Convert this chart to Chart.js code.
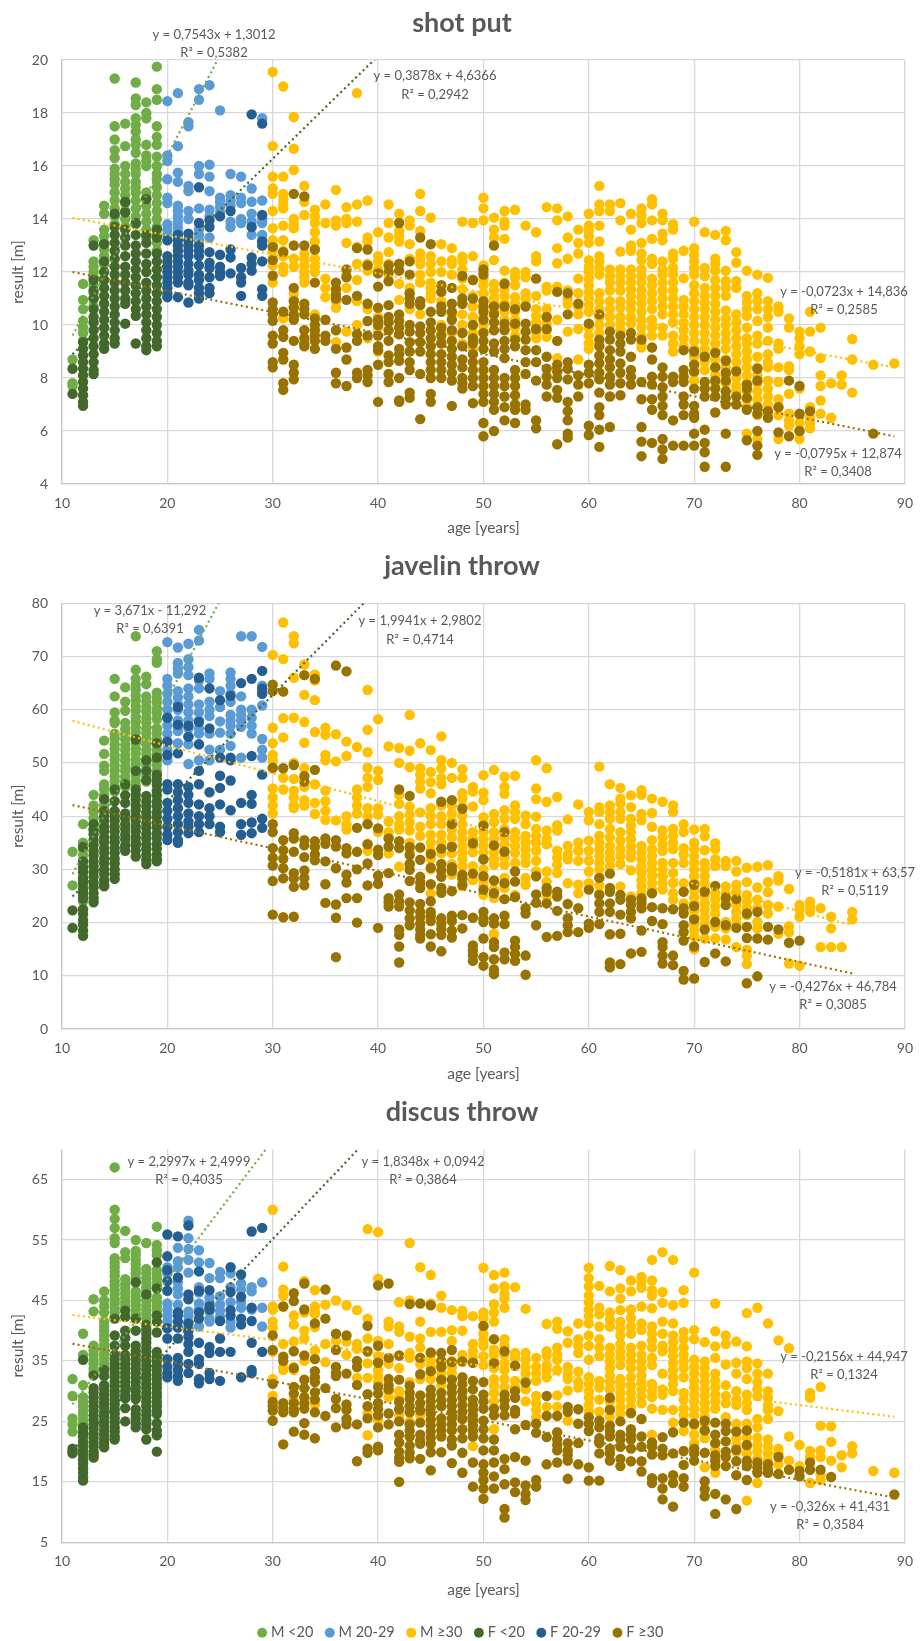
<!DOCTYPE html>
<html>
<head>
<meta charset="utf-8">
<script src="https://cdn.jsdelivr.net/npm/chart.js@4"></script>
<style>
  html, body { margin: 0; padding: 0; background: #fff; }
  canvas { position: absolute; left: 0; }
</style>
</head>
<body>
<canvas id="shot" style="top:0" width="924" height="540"></canvas>
<canvas id="javelin" style="top:540px" width="924" height="545"></canvas>
<canvas id="discus" style="top:1085px" width="924" height="556"></canvas>
<script>
// rows are [age, result, result, ...]
const seriesNames = ["M <20", "M 20-29", "M ≥30", "F <20", "F 20-29", "F ≥30"];
const seriesColors = ["#70ad47", "#5b9bd5", "#ffc000", "#43682b", "#255e91", "#997300"];
const ageTicks = [10, 20, 30, 40, 50, 60, 70, 80, 90];
const shotTicks = [4, 6, 8, 10, 12, 14, 16, 18, 20];
const javelinTicks = [0, 10, 20, 30, 40, 50, 60, 70, 80];
const discusTicks = [5, 15, 25, 35, 45, 55, 65];

// ---- shot put ----
const shotMYoung = [
  [11,8.7,7.8,7.7],
  [12,11.55,10.95,10.6,10.15,9.9,9.7,9.4],
  [13,13.2,12.4,12.2,12,11.8,11.5,11.2,11,10.7],
  [14,14.5,14.2,13.6,13.35,13.1,12.85,12.6,12.3],
  [15,19.3,17.5,17,16.6,16.3,15.9,15.7,15.5,15.3,15,14.7,14.4,14.1,13.8],
  [16,17.6,16.75,16,15.7,15.4,15.15,14.9,14.6,14.3,14,13.7],
  [17,19.15,18.55,18.3,17.8,17.55,17.3,17,16.8,16.5,16.1,15.9,15.7,15.4,15.2,15,14.7,14.4,14.1,13.8],
  [18,18.4,18,17.8,16.8,16.4,16.2,16,15,14.8,14.5,14.2,13.9,13.6,13.3],
  [19,19.75,18.9,18.5,17.5,17.1,16.8,16.35,16,15.7,15.5,15.2,14.9,14.6,14.3,14,13.7,13.4,13.1,12.8],
];
const shotMMid = [
  [20,18.45,16.4,16.2,15.5,14.8,14.6,13.8,13.6,13.4],
  [21,18.75,16.75,15.75,15.4,14.5,14.3,14.1,13.9,13.7,13.5],
  [22,17.65,17.5,15.25,15.05,14.3,14],
  [23,18.9,18.5,16,15.7,14.4,13.6,13.4,13.2],
  [24,19.05,16.05,15.6,15.05,14.35,14.1,13.3],
  [25,18.1,14.8,14.65,14.45,14.25],
  [26,15.7,14.9,14.7,14.5,13.9,13.7],
  [27,15.6,14.8,14.6,14,13.85],
  [28,15.15,14.65,14.2,13.9,13.4],
  [29,17.8,14.7,14,13.85,13.4,13.2],
];
const shotMOld = [
  [30,19.55,16.75,15.6,15.15,14.95,14.3,13.65,13.2,13,12.8,12.5,12.25,11.6],
  [31,19,15.6,14.95,14.75,14.55,14.4,13.75,13.2,12.8,12.6,12.2,12,10.25],
  [32,17.85,16.65,15.85,14,13.8,13.65,12.5,12.2,11.2,10.95,10.7],
  [33,15.25,14.65,14.15,12.7,12.5,12.25,12,11.8,11.6],
  [34,14.35,14.1,13.85,13.5,13.15,12.85,12.5,12.2,12,10.4],
  [35,14.55,13.85,11.75,11.4,11.05],
  [36,15.1,13.95,13.75,11.1,10.9,10.65,9.35],
  [37,14.45,14,13.85,13.1,11.9,11.4,9.75],
  [38,18.75,14.55,13.9,12.95,12.3,11.7,10.9,10],
  [39,14.7,13.3,13.15,12.3,12.05,10.6,9.5],
  [40,13.5,12.6,12.4,12.1,10.3,10.1,9.9,9],
  [41,14.55,13.85,13.3,12.75,12.3,11.9],
  [42,14.2,13.55,13.35,13.15,12.3,11.55,10.95],
  [43,13.95,13.75,13.05,12.5,11.4,11.2,10.6],
  [44,14.95,14.3,13.55,12.7,12.5,12.3,11.9,11.6,10.9,10.4],
  [45,14.05,12.6,12.3,12,11.6,11.4,11.2,11],
  [46,13.05,12.4,12,10.9,10,9.7,9.4],
  [47,12.9,12.45,12.3,11.9,10.4,9.7],
  [48,13.9,12.58,12.4,12.1,11.75,11.35,10.8,10.4,10,9.7,9.3],
  [49,13.85,12.6,11.7,11.1,10.7,10.3,10,9.7,9.4,9.1],
  [50,14.8,14.4,13.95,12.25,12,11.75,11.5,11.2,10.9,10.6,10.3,10,9.75],
  [51,14.05,13.6,13.3,12.45,11.55,11.3,11,10.8,10.5],
  [52,14.3,13.9,13.75,13.25,12.05,11.6,11.35,11.1,10.8,10.5,10.2,9.9],
  [53,14.35,12,11.8,11.5,11.05,10.8,10.5,10.2,9.9,9.6],
  [54,13.75,12,11.8,11.2,11,10.75],
  [55,13.5,12.6,12.4,11.1,10.6,10.35,10.1,9.9,9.7,9.5],
  [56,14.45,11.45,11.3,10.6,10.3,10.05,9.8,9.55],
  [57,14.4,13.95,12.9,12.33,11.45,10.2,8.75],
  [58,14.1,13.3,12.5,11.3,11,10.8,9.75],
  [59,13.6,13.1,12.7,11.75,11.2,10.7,10.4,9.85,8.7],
  [60,14.2,13.75,13.55,13.35,13.1,12.45,12.2,12,11.75,11.5,11.25,11,10.75,10.5,9.9,9.6,9.3,9.1],
  [61,15.25,14.55,14.3,13.75,13.15,12.6,12.4,12.15,11.9,11.2,10.9,10.6,10.3,10,9.7,9.3],
  [62,14.55,14.3,12.1,11.85,11.6,11.3,10.9,10.6,10.3,10],
  [63,14.6,13.95,12.77,12.1,11.85,11.6,11.3,10.9,10.65,10.3,10.05,9.8],
  [64,14.2,13.6,13,12.8,12.1,11.85,11.6,11.35,11.1,10.85,10.6,10.3,10.05],
  [65,14.4,14.15,13.85,13.1,12.7,12.45,12.1,11.85,11.6,11.3,11.05,10.8,10.5,10.2,9.9,9.6,9.3,9.15],
  [66,14.75,14.55,13.95,13.25,12.5,12.3,11.75,11.5,11.2,10.9,10.6,10.2,9.9,9.6],
  [67,14.2,13.95,13.45,13.2,12.4,12.1,11.9,11.6,11.3,11,10.7,10.4,9.9,9.6],
  [68,13.8,13.6,12.7,12.5,12.15,11.9,11.6,11.3,11,10.7,10.4,10.1,9.6,9.3,9],
  [69,12.8,11.76,10.95,10.7,10.4,10.1,9.8,9.5,9.2],
  [70,13.9,12.9,12.65,12.4,12.15,11.9,11.5,11.2,10.9,10.6,10.3,10,9.7,9.4,9.1,8.8,8.5,8.2,7.9],
  [71,13.5,12.15,11.85,11.4,11.1,10.85,10.6,10.3,10,9.7,9.4,9.1,8.9,8.6,8.3,7.6],
  [72,13.4,12.5,12.3,12.05,11.7,11.4,11.1,10.8,10.5,10.2,9.9,9.6,9.3,9,8.7,8.4,8.1,7.8],
  [73,13.55,13.2,12.05,11.65,11.4,11.1,10.55,10.25,10,9.7,9.4,9.1,8.7,8.4,8.1,7.8],
  [74,12.75,12.35,11.65,11.4,10.4,10.1,9.8,9.5,9.2,8.9,8.6,8.3,8,7.7,7.5],
  [75,12.05,11.1,10.85,10.6,10.35,9.9,9.5,9.3,9,8.7,8.4,8.1,7.8,7.5,7.2,6.9,5.9],
  [76,11.9,11.2,10.9,10.6,10.15,9.6,9.3,8.8,8.4,8.1,7.8,7.5,7.2,6.9,6.6,5.7],
  [77,11.78,10.9,10.6,10.3,9.9,9.4,8.9,8.6,8.4,7.9,7.6,7.3,7,6.7],
  [78,10.7,10.5,9.3,9.1,8.4,7.85,7.2,6.9,6.6,5.7],
  [79,10.25,9.9,8.45,8.3,7.4,6.65,6.4,6.2],
  [80,9.75,9.5,9.2,8.9,7.6,6.6,6.3,6,5.7],
  [81,10.5,9.75,9,6.9,6.5,6.3,6.1],
  [82,9.9,8.75,8.1,7.7,7.15,6.65],
  [83,7.8,6.5],
  [84,8.1,7.75],
  [85,9.47,8.7,7.45],
  [87,8.5],
  [89,8.55],
];
const shotFYoung = [
  [11,8.35,7.4],
  [12,9.35,9.1,8.85,8.6,8.35,8.1,7.85,7.6,7.35,7.1,6.95],
  [13,13,11.7,11.3,11,10.6,10.3,10.1,9.8,9.5,9.2,8.9,8.6,8.3,8.15],
  [14,13.05,12.4,12,11.7,11.4,11.1,10.8,10.5,10.2,9.9,9.6,9.3,9.1],
  [15,14.2,13.7,13.4,13.1,12.8,12.5,12.2,11.9,11.6,11.3,11,10.7,10.4,10.1,9.8,9.5,9.3],
  [16,14.65,14.25,13.6,13.3,13,12.6,12.2,11.9,11.6,11.3,11,10.8,10.05],
  [17,13.85,13.4,13,12.7,12.4,12.1,11.8,11.5,11.2,10.9,10.6,10.35,9.3],
  [18,14.75,13.4,13.1,12.7,12.3,12,11.6,11.3,11,10.7,10.4,10.1,9.8,9.5,9.2,9.05],
  [19,13.6,13.3,12.7,12.4,12.1,11.8,11.5,11.2,10.9,10.6,10.3,10,9.7,9.4,9.2],
];
const shotFMid = [
  [20,13.2,12.6,12.4,12.2,12,11.8,11.6,11.4,11.2,11.05],
  [21,13.4,13.2,13,12.8,12.6,12.4,12.2,12,11.8,11.6,11.05],
  [22,13.45,13.2,13,12.8,12.6,12.3,12.05,11.9,11.6,11.5,10.85],
  [23,15.2,13.85,13,12.8,12.6,12.25,11.9,11.7,11.4,11.2,11],
  [24,13.95,13.7,12.75,12.35,12.15,11.8,11.4,11.2],
  [25,14.1,12.65,12.2,12,11.85],
  [26,14.3,12.85,12.55,11.95],
  [27,12.15,11.8,11.6,11.1],
  [28,17.95,13.7,12.55,12.3,12.05],
  [29,17.6,14.15,13.15,13,12.4,11.35,11.1],
];
const shotFOld = [
  [30,12.95,12.45,11.86,10.85,10.6,10.4,10.16,9.6,9.3,8.6,8.4],
  [31,12.75,10.5,9.8,9.55,8.95,8.7,7.8,7.55],
  [32,14.95,13,11.4,10.9,10.65,10.4,10.2,9.4,8.5,8.2,7.95],
  [33,14.85,13,10.8,10.6,10.4,9.8,9.5,9.3,9.2],
  [34,12.85,11.6,10.25,10,9.8,9.6,9.4,9.1],
  [35,10.2,9.6,9.4],
  [36,11.6,11.35,11.15,11,9.8,9.1,8.2,7.8],
  [37,12.1,11.8,10.95,9.15,8.7,7.7],
  [38,12.9,11.1,9.65,9.4,8.2,8],
  [39,12.85,12.25,10.8,10.15,9.6,8.3,8.1,7.85],
  [40,11.95,11.45,10.65,10.2,10,9.6,9.2,9.05,8.5,7.1],
  [41,12.25,12,11.65,10.75,10.3,10.1,9.8,9.4,8.85,8.6,8.15,7.85],
  [42,13.85,12.3,12.05,10.4,10.15,9.9,9.65,9.1,8.9,8.65,8,7.15,7.1],
  [43,12.4,11.9,11.2,11,10.8,10,9.75,9.35,9,8.6,8.3,7.45,7.25],
  [44,13.3,10.9,10.75,9.95,9.7,9.35,9,8.15,6.45],
  [45,13.05,10.5,10.1,9.8,9.5,9.2,8.9,8.6,8.3,8,7.4,7.1],
  [46,11.5,11.25,10.7,10.5,9.9,9.6,9.3,8.9,8.6,8.3,8],
  [47,11.4,10.8,10.5,10.2,9.8,9.4,9.1,8.8,8.5,8.2,7.9,6.95],
  [48,11.85,11,10.8,9.7,9.2,8.7,8.4,8,7.8,7.6],
  [49,11.7,11,10,9.5,9.3,8.9,8.6,8.3,8,7.7,7.05],
  [50,12.1,11.9,10.9,10.7,10.5,10.2,9.7,9.4,9.1,8.6,8.3,8,7.7,7.4,7.1,6.3,5.8],
  [51,13,10.7,10.4,10.1,9.8,9.3,9,8.3,8,7.7,7.4,7.1,6.8,6],
  [52,11.55,10.7,10.05,9.8,9.4,9.1,8.75,8,7.7,7.3,6.9,6.4],
  [53,10.6,10.05,9.45,9.2,8.3,8,7.7,7.35,7,6.8,6.3],
  [54,10.7,10.05,9.75,9.45,9.05,8.6,8.15,7,6.8],
  [55,11.75,9.85,9.05,8.6,7.9,6.4,6.1],
  [56,10.3,9.85,8.8,8.35,8.05,7.75,7.3],
  [57,11.25,9.4,8.5,8.25,8,7.55,7.25,5.5],
  [58,11.2,10.4,8.6,8.35,7.95,7.1,6.75,6.4,5.9,5.75],
  [59,10.8,8.1,7.75,7.3],
  [60,10.05,8.5,8.2,7.8,6.2,5.85],
  [61,10.4,9.45,9.2,8.85,8.55,8.2,7.95,7.45,6.9,6.6,6.05,5.4],
  [62,9.75,9.45,9.05,8.7,8.4,8.05,7.75,7.3,6.15],
  [63,9.6,9.3,9,8.55,8.2,7.8,7.35],
  [64,9.7,9.45,8.8,8.3,8.05,7.75],
  [65,9.45,7.85,7.2,6.15,5.6,5.05],
  [66,9.15,8.7,8.05,7.75,7.2,6.8,5.55],
  [67,8.4,8.05,7.65,7.3,6.95,6.6,5.7,5.3,4.95],
  [68,8.05,7.85,6.4,5.45],
  [69,9.05,8.3,8.05,7.85,7.3,7,6.6,5.45],
  [70,9,8.5,8.25,7.6,6.95,6.65,6.5,5.9,5.45],
  [71,8.8,7.85,7.6,7.3,6.05,5.55,5.2,4.65],
  [72,8.95,8.4,7.9,7.6,7.3,6.7],
  [73,8.65,8.2,7.9,7.5,7.25,7,5.9,4.65],
  [74,8.25,7.3,7],
  [75,7.75,7.6,7.25,6.8,5.65],
  [76,8.35,7.9,6.9,6.65,6,5.45,5.1],
  [77,6.75,6.5],
  [78,6.9,5.95],
  [79,7.9,5.8],
  [80,7.7,6.65,6],
  [81,6.75],
  [87,5.9],
];

// ---- javelin throw ----
const javelinMYoung = [
  [11,33.3,27],
  [12,38.5,35,33.8,32.7,31.6,30.5,29.4,28.3,27.2,26.1,25,24],
  [13,44,42,40.8,39.6,38.5,37.4],
  [14,54.2,51.7,49.5,48.5,46,45.1,44,43.1,42,41.1],
  [15,65.8,62.5,59.5,58,57.5,55.5,54.6,53.5,52.6,51.5,50.6,49.5,48.6,47.5,46.6,45.5,44.6],
  [16,64.2,61.5,59.8,57.5,56.4,55.4,54.5,53.4,52.5,51.4,50.5,49.4,48.5,47.4,46.5,45.5],
  [17,73.8,67.5,65.8,64.7,63.8,62.7,61.8,60.7,59.8,58.7,57.8,56.7,55.8,54.7,53.8,52.7,51.8,50.7,49.8,48.7,47.8,46.7,45.8],
  [18,66.2,64.8,62.5,61.5,60.5,59.6,58.5,57.6,56.5,55.6,54.5,53.6,52.5,51.6,50.5,49.6,48.5,47.6,46.5],
  [19,71,69.5,68.8,63.2,62.2,61.3,60.2,59.3,58.2,56.5,55.6,54.5,53.6,52.5,51.6,50.5,49.6,48.5,47.6],
];
const javelinMMid = [
  [20,72.7,65.8,64.5,63,61.5,60,58.5,57,55.5,54,52.5,50.5],
  [21,71.7,68.8,67.8,66.8,63.5,62.3,61,60,58,57,56,53.7],
  [22,72.4,69.5,68,66.5,64,62.5,61,59.5,58,56.5,55,53.5,49.8],
  [23,75,73,65.5,64,61,59.5,58,56.5,55.5,53.5,50.5],
  [24,66.8,65.8,61.5,60,58.8,55.5,52.5,50.5],
  [25,63.5,60.5,57.8,55.7,52.5],
  [26,67,65.8,64.5,63,61.5,59,58,57,55.5,53.2],
  [27,73.8,62.5,60,59,58,56.8,51],
  [28,73.8,60,58.5,57,55.5],
  [29,71.8,64.5,63.3,60.8,54.5,52.5,51],
];
const javelinMOld = [
  [30,70.3,56.6,53.7,51.5,50.5,49,45.2,43.5,42,40.5],
  [31,76.4,69.5,58.4,54.8,47.2,45],
  [32,73.8,72.5,66,58.5,50,47,44.8,43.5,42,41.5],
  [33,68.5,62.8,57.7,53.8,49,45.5,43,42],
  [34,66.6,65.5,61.8,55.8,46,42.5,40.4],
  [35,56.6,55.3,51.5,50.5,44.8,42.8,41,39.3],
  [36,55.4,50.3,39.2],
  [37,54,51.3,40,38.5,37.5],
  [38,53,45,43.5,42,40.5],
  [39,63.7,56.2,52,49.1,47.2,45.5,41.5,40,38.5,34.8,33.5],
  [40,58.2,48.5,46.8,41.5,40.3,37],
  [41,53.1,39,37,36,33],
  [42,52.8,50,44,42.3,40,38.5,37.5,30.5],
  [43,59,52.3,49.2,41.8,40.3,38.8,37.3,35,33.5,31],
  [44,53.7,49,47.8,46.5,45.2,40.7,38,36.3],
  [45,52.4,48.3,46.4,44.3,41.5,40,38.5,36.5,35,33.5,32,30,25.5],
  [46,55,50.5,49,47.2,46,42,40,38.5,36.5,35,33],
  [47,50,47.2,42,40.5,39,37.5,36,34.5,33,31,29],
  [48,48.8,47.2,44.3,43.3,41.7,40.1,38.5,37,35.7,34.4,33.2,31.9,30.6,28,26.8],
  [49,45.5,44.6,41.8,37,35.7,34.4,33.2,30.6,28],
  [50,47.7,44.4,43,39.8,38.5,37,35.7,34.4,33.2,31.9,30,28,27,25.2],
  [51,48.7,40.4,38.9,37,35.7,34.4,33.2,31.9,30.9,26.2,24.6,17.9],
  [52,47.4,45.5,44.2,41.1,39.5,37.6,36,34.7,33.5,32.2,30.9,28.4,26.5],
  [53,47.6,42,40.8,39.5,37,35.7,34.4,33.1,31.2,25.2],
  [54,40.1,38.5,36.3,35,33.8,32.5,31.2,28.4,27.1],
  [55,50.5,45.2,43.2,39.9,37.6,36.3,35,33.5,31.6,29.6],
  [56,49,42.7,37.3,35.7,34.7,29.6,27.7,24.9],
  [57,43.6,38.3,37.3,33.5,32.2,30.9,29.3],
  [58,39.4,34.4,32.8,31.9,27.4],
  [59,42.2,35,33.5,31.6,27.1,25.5],
  [60,40.8,39.2,35.4,33.5,31.6,29.6,27.4],
  [61,49.3,41.7,40.8,38.5,36.3,35,33.8,32.5,31.2,30,28.5,27,25.5],
  [62,46,42,40.8,39.5,37.6,36,34.4,33.1,31.9,30.6],
  [63,45.3,43.3,42.4,40.8,39.5,37,35.4,33.8,32.5,31,26.8],
  [64,43.9,41.7,39.5,38.2,37,35.7,34.4,33.2,32.2,29.8,24.9],
  [65,44.9,44,40.4,39.2,34.4,33.2,31.9,30.6,29.3,28,26.8,25.5,24.2],
  [66,43.3,40.6,38,35.5,33.8,32.5,31.2,30,28.7,27.4,26.2],
  [67,42.7,37.3,36,34.7,33.5,31.2,30,28.7,27.4,26.2],
  [68,42,40.8,37.6,36.3,35,33.8,31.2,29.3,27.4,25.5,24.3],
  [69,38.5,37,34,32.8,31.2,27.4,23.6],
  [70,37.5,35,33.8,32.5,31.2,30,28.7,27.4,26,24.7,23.5,22.2,21,19.6,18.5,17.3,15],
  [71,37.6,36.2,33.6,31.2,30,28.7,27.4,26.2,25,23.6,22.4,21,19.8,17],
  [72,34.9,33.8,31.9,30.6,25.5,24.3,23,21.7,19.2,17],
  [73,31.6,30.6,26.8,25.5,24.3,20.1,18.9,16.8],
  [74,31.6,29.6,27.1,25.8,24.6,23.3,22,20.8,19.8,15.4],
  [75,30.3,27.6,25.2,23.9,22.7,21.4,19.2,14.9,13.8,12.2],
  [76,30.5,26.6,24.3,22.7,20.1,18.9],
  [77,30.8,27.6,25.7,23.3,21.7],
  [78,28.7,27.9,23,17.9],
  [79,26.3,19.3,18.2,12.3],
  [80,23.3,22.4,21.1,11.9],
  [81,23.9,23,22],
  [82,22.7,15.4],
  [83,21.1,18.9,15.4],
  [84,15.4],
  [85,22,20.6],
];
const javelinFYoung = [
  [11,22.3,19],
  [12,34.2,31.5,30.4,29.5,28.4,27.5,26.4,25.5,24.5,22.5,21.6,20.5,19.6,18.5,17.5],
  [13,38.5,37.5,36.6,35.5,34.6,33.5,32.6,31.5,30.6,29.5,28.6,27.5,26.6,25.5,24.6,23.8],
  [14,43.2,41,40,39.1,38,37.1,36,35.1,34,33.1,32,31.1,30,29.1,28,27.1,26.8],
  [15,45,42.8,41,40,39.1,38,37.1,36,35.1,34,33.1,32,31.1,30,29.1,28.2],
  [16,46,43.9,42.5,40.5,39.6,38.5,37.6,36.5,35.6,34.5,33.5],
  [17,54.4,48.5,45,44,43.1,42,41.1,40,39.1,38,37.1,36,35.1,34.5,33.5,32.4],
  [18,50.5,48.5,46.8,43.8,42.7,41.8,40.7,39.8,38.7,37.8,36.7,35.8,34.7,33.8,32.7,31.8,31],
  [19,53.7,51,47.8,46.8,45.9,44.8,43.9,42.8,41.9,40.8,39.9,38.8,37.9,36.8,35.9,34.8,33.9,32.8,31.9,31.5],
];
const javelinFMid = [
  [20,58.5,54,51.5,46,45,42.5,41,39.5,38,36.5,35.5],
  [21,60.5,57.2,51.8,46,44.5,43,41.5,40,38.5,37,35.5,35],
  [22,57,54.9,45.5,44,42.5,40.5,39,38,36.8],
  [23,66,57.7,53.5,48.5,46,42.2,40,38.5,37],
  [24,64,56.5,44.5,41.5,40,38.5],
  [25,61.8,51,47.6,45.3,42.2,38,37],
  [26,62.6,51,50.5,46.7,41.1],
  [27,65,42.5,38.5,36.5],
  [28,65.8,51.3,44,42.3,38.8,36.8],
  [29,67.3,64,63,47.8,39.5,37.8],
];
const javelinFOld = [
  [30,64.7,63.5,49.1,38.5,37,34,32.2,30.7,27.8,21.5],
  [31,63.4,49,35.5,33.6,32,30.2,28.3,21],
  [32,49.6,36.8,35.8,33.3,29.3,28.3,26.7,21.1],
  [33,66.5,47.5,46.5,35.5,34.5,32.3,29.8,28.4,27],
  [34,65.8,48.7,35.3,34.2,32.8,31.7],
  [35,35.8,34.8,31.5,27.2,23.7],
  [36,68.3,35.5,34.3,30.2,23.4,20.9,13.5],
  [37,67.2,34,33,29,27.5,24.6],
  [38,37.8,33.3,30,24.6,20],
  [39,38.5,34.7,31.1,27],
  [40,37.7,33.7,32.7,28.8,27.3,19],
  [41,35.8,34.3,29.3,24.6,23.8,23],
  [42,45,35.3,34,25.3,24,23,18.7,17.7,15.5,12.5],
  [43,43.8,34.2,32.7,31,29.9,27.8,23.8,22.3,20.8,19.5],
  [44,34.1,31.8,28.6,27.5,26.5,23.5,22,21,19.8,18.7,17.7,17],
  [45,32.9,30.3,27.2,24,22,21.2,20.3,17.8,15.5],
  [46,42.7,33.9,31,29.8,28.6,26.5,25.6,20.8,19.8,18.8,17.7,14.6],
  [47,43,38.5,34.2,30.4,29.7,25.9,21.3,20.3,18.5,17.2],
  [48,41.4,29,28.4,27.1,21.4,18.9],
  [49,34.9,29.2,20.9,15.7,14.7,13.8,12.8],
  [50,38.2,31.9,28.7,26.2,22,20.8,20.1,17,13.5,11.9],
  [51,34.5,27.9,25.5,20.8,19.8,16.3,15.4,13.1,11.2,10.3],
  [52,37,33.3,27.4,24.4,21.3,19.7,14.4,13.1],
  [53,29.6,27.7,24.8,16.6,15.4,14.1,12.8],
  [54,22.7,21.7,13.8,10.2],
  [55,28.7,25.3,23.7,19.5],
  [56,26.5,25.8,23.6,17.3],
  [57,25.8,24.9,22.2,17.5],
  [58,23.5,20.8,19.5,18.2],
  [59,22.7,18.2],
  [60,26.2,19.8,19],
  [61,28.4,25.2,23.6,22,19.7],
  [62,29.2,26.5,25.8,23.6,22,17.8,12.5,11.6],
  [63,25.2,24.3,21.5,17.9,12.2],
  [64,24.3,23.3,22,20.8,14.2],
  [65,24.6,23.6,22.7,18.5,14.5],
  [66,25.5,22.9,20.3],
  [67,22.7,19.7,16.3,15.4,13.8,12.3],
  [68,22.5,13.8,12],
  [69,25.8,22.7,21.7,19.5,18.2,16.6,10.9,9.3],
  [70,27.1,23.1,20.6,15.5,9.5],
  [71,25.8,18.7,12.6],
  [72,26.9,20.1,14.2],
  [73,24.7,23.3,19.5,12.7],
  [74,24.4,19],
  [75,21.7,19.2,17.1,8.6],
  [76,22,17,9.9],
  [77,19.2,16.8],
  [78,18.7],
  [79,16.2],
  [80,16.6],
];

// ---- discus throw ----
const discusMYoung = [
  [11,32,29.2,25.5,24.5,23.3],
  [12,39.5,36,31,29,28.2,27.5,26.7,26,25.2,24.5],
  [13,45.2,43.2,37.5,36.7,36,35.2,34.5,33.7,33],
  [14,46.5,45,44,43,41.5,40.7,40,39.2,38.5,37.7,37,36.2,35.5,34.7,34,33.5],
  [15,67,60,58.5,57,55.3,54.5,52,51.2,50.5,49.7,49,48.2,47.5,46.7,46,45.2,44.5,43.7,43,42.2],
  [16,56.5,53,52,48.5,47.7,47,46.2,45.5,44.7,44],
  [17,55,53.2,52.5,51.7,51,50.2,49.5,48.7,48,46.5,45.7,45,44.2,43.5,42.7,42],
  [18,54.5,50.2,49.5,48.7,48,47.2,46.5,45.7,45,44.2,43.5,42.7,42],
  [19,57.2,54.2,53.3,52.5,50,49.2,48.5,47.7,47,45.5,44.7,44,43.2,42.5],
];
const discusMMid = [
  [20,50.5,49.5,44.5,43.5,42.5,41.5,40.5],
  [21,53.7,51.5,50.5,48,47,46,44.3,43],
  [22,58.2,55.3,53.5,51.7,49.6,43.2,42.5,41.5,40.5],
  [23,53.3,51.3,47.2,46.3,44.5,43.5,40.7],
  [24,51.2,48.7,45.5,44.5,43.2,42,41.5],
  [25,49.7,48.7,45.7,44.3,43.3,42.3],
  [26,49.5,47.2,44.7,41.5,40.5],
  [27,47.8,46.8,44.7,43.8],
  [28,47.2,46.5,43.5],
  [29,48,43.8,40.7],
];
const discusMOld = [
  [30,60,44,43.5,41.5,40.5,36.5,32,29.2],
  [31,50.6,46.8,45.8,44,37.8,34,33.5],
  [32,42.5,41,38.2,34,33.5,28.5],
  [33,48.2,43,40,38.7,35],
  [34,46.7,44,43.2,42.8,40.6,36.7,27.8],
  [35,44.3,37.8,34.8],
  [36,45,38.3],
  [37,44.2,38.2,36],
  [38,43.4,37.8,37,32.2],
  [39,56.8,42,38.7,36.5,34.6,32.2,26.3,22.7],
  [40,56.3,48.6,38.3,35.8,34.8,33.5,32.5,31.5,25.2],
  [41,41.5,40.7,37.8,35.2,34.5,30,29],
  [42,44.7,40.7,39.8,33.8,30,29,26,25],
  [43,54.5,45,39,36.3,35.5,31.5,25],
  [44,50.5,41.5,38.7,37.2,35.5,34.5,32,26],
  [45,49.2,44.5,39.8,36,35,34,33,32],
  [46,45.8,43.8,39.8,34.5,33,32,31],
  [47,43.4,40.1,38.3,35,34,33,32],
  [48,43.3,42.4,40,36,35,30],
  [49,42.4,37.8,36.6,35.5,20.9],
  [50,50.4,43,42.1,40.7,39.5,38.4,37.5,35.8,34.3],
  [51,49.2,47,44.4,43,41.5,36.9,36,34.9,33.8,32,30.9,29.7,28.3,23.7],
  [52,49.6,47.3,46.1,45.3,43.8,38.6,37.5,36,34.6,33.5,32,30.6],
  [53,47.2,36.3,35.5,31.7,30.6],
  [54,43.6,36.3,35.2,34,32.9,31.7,30.3,28.3],
  [55,35.5,34,32.9,31.7,29.2,28,26.9,25.7],
  [56,41.1,36.6,35.9,34.3,33.5,32.3,27.4],
  [57,41.5,40.3,37.2,36,35.2,33.5,29.3,27.4],
  [58,39.9,38,34,32.9,32,30.1,25.1],
  [59,41.2,38.6,37.5,36.3,33.2,31.5,30.6],
  [60,50.4,48.7,47.3,45.8,44.7,43.5,42.4,41.2,39.2,37.5,35.2,32.3,31.2,30,28.9,27.7,26.6],
  [61,47.4,43.8,42.7,40.7,38.6,37.2,35.8,31.7,30.6,28.6,26.6],
  [62,50.7,46.5,43,41.8,40.7,37.2,36,34.9,33.8,32.6,31.5,30.3,28.3,27.1,25.7],
  [63,50,47,45.3,43.4,41.5,40.4,39.2,37.8,36.6,35.5,34.3,32,30.9,29.7,28.6,27.4,26.3],
  [64,48.3,46.5,43.5,42.1,40.7,39.5,37.2,36,34.9,33.8,32.3,30.9,29.7,28.6,27.4,26.3],
  [65,48.9,48.1,47.1,44,41.2,40.1,37.5,36,34.9,33.8,32.6,31.5,30.3,29.2,28],
  [66,51.7,48.3,46.7,45.8,43.7,40.7,39.5,38.4,37.2,35.5,34.3,31.2,30,29,27.1,22.8],
  [67,53,46.4,44.6,41.5,39.5,37.5,36.6,32.9,30.3,29.4,26.9],
  [68,51.7,44.2,41.2,39.2,38.1,36.9,35.8,34.6,33.5,32.3,31.2,30,26.9,24.8],
  [69,46.7,44.6,39.8,38.6,37.2,36,34.9,33.8,32.3,29.7,28.6,27.1,26,23.4],
  [70,49.6,40.1,38.6,35.2,34,32.9,31.7,30.6,29.4,28.3,27.1,26,24.3,22.8,21.4],
  [71,38.1,34.9,33.8,32.6,31.5,30.3,29.2,28,26.9,25.7,24.6,23.4,22.2,17.4],
  [72,44.5,39.9,37.4,35.5,32.9,31.7,30.6,29.4,28.3,27.1,21.4,20.2,19.1,16.5],
  [73,39.2,37.8,34.4,31,29.2,28,25.7],
  [74,38.2,34.7,32.9,30,28.6,27.7,24.6,23.4,22.2,21.1,20],
  [75,42.9,37.4,34.9,33.8,32,29.4,28,26.9,24.6,23.4,22.3,20.8,19.7,18.2,11.9],
  [76,43.8,34.6,32.9,31.5,30.3,29.2,25.4,24,22.3,21.1,20,18.8,14.8],
  [77,41.2,32.9,30,28.9,27.7,26.9,25.4,22,20.8,19.7,18.5],
  [78,38.4,26.7,20.5,19.7,17.9],
  [79,37.1,22.5,18.5],
  [80,21.1,17.6],
  [81,29.7,28.9,20.1,19.1,14.8],
  [82,30.7,24.3,20.2,19.1,16.2,15.3],
  [83,24.2,21.6,18.5],
  [84,19.4,17.4],
  [85,20.9,19.7],
  [87,16.8],
  [89,16.5],
];
const discusFYoung = [
  [11,20.5,20,19.7],
  [12,35.2,24,23.2,22.5,21.7,21,20.2,19.5,18.7,18,17.2,16.5,15.7,15.2],
  [13,32.6,30.5,29.8,29,28.3,27.5,26.8,26,25.3,24.5,23.8,23,22.3,21.5,20.8,20,19.5,19],
  [14,33.5,32.5,31,30.3,29.5,28.8,28,27.3,26.5,25.8,25,24.3,23.5,22.8,22,21.3,20.7],
  [15,42,39.2,37.5,36,35.3,34.5,33.8,33,32.3,31.5,30.8,30,29.3,28.5,27.8,27,26.3,25.5,24.8,24,23.3,22.5,22],
  [16,43.3,42.3,40,38.8,37.5,36,35.3,34.5,33.8,33,32.3,31.5,30.8,30,29.3,28.8,27.2,25],
  [17,48,42,40,37.5,36.7,36,35.2,34.5,33.7,33,32.2,31.5,30.7,30,29.2,28.7,27,26.2,25.5,24.7,24],
  [18,46,41,40.2,39.5,38.7,38,37.2,36.5,35.7,35,34.2,33.5,32.7,32,31.2,30.5,29.7,29,28.2,27.5,26.7,26,25.2,24.5,23.7,22],
  [19,51.3,47,42.5,41.5,39.7,36.5,35.7,35,34.2,33.5,32.7,32,31.2,30.5,29.7,29,28.2,27.5,26.7,26.2,24.7,23.5,22.7,20],
];
const discusFMid = [
  [20,55.9,52.3,50,48.2,46.6,40.4,38.7,35.3,34,33,32.3],
  [21,55.6,48.8,43,42.5,41.5,40.5,38.7,35.5,34.5,33.5,32.5,31.7],
  [22,57.4,46,45.2,41.2,40,39,37.8,36.5,34.5,33],
  [23,49.8,46.6,43,42,38,35.3,34.5,32,31.3],
  [24,46.7,44,43.5,37.3,36.3,33,32],
  [25,41.6,38.7,36.5,31.7],
  [26,50.5,46.4,43.4,42.5,36.5],
  [27,49.3,45.6,42,41,32.3],
  [28,56.4,43.8,41.6,38,33.5,33],
  [29,57,36.5],
];
const discusFOld = [
  [30,39.2,36.8,31.2,28.2,27.5,26.8,25.1],
  [31,44,35.7,35,28,27.2,26.5,21.2],
  [32,46.2,44.9,36.6,33.8,30.7,29.6,28,27,26.5,23.3],
  [33,47.8,43.5,35.9,31.9,30.5,29,28,27.1,24.7,22.8],
  [34,41.2,35.3,33.3,32.3,31.5,29.8,28.6,26.5,22.2],
  [35,46.8,42,30.5,25.9],
  [36,39.5,36.8,34,33,32.5,28.7,27.2,24],
  [37,39.2,32.9,27.8,26.9,25.4,24.5],
  [38,35,34,31,24.5,18.4],
  [39,40.8,36.6,29.5,27.5,25.5,20.5,19.8],
  [40,47.5,37.5,34.7,30.7,29.6,28,27,26,24,20.8,20.2],
  [41,47.8,35.5,32,31,30.3,26.3,24.5],
  [42,35.9,31.9,28.3,27,25,22.8,21.5,20,19,18.3,15],
  [43,44.4,30.9,29.7,28.7,27.5,26.5,24.5,23.5,22.5,21,19.8,18.9],
  [44,44.5,35.5,32.8,29.3,28,26.8,24.8,22.8,21.8,21.3,18.8],
  [45,44.2,36.4,33.3,30.3,29.3,28.3,27.3,26.3,25.3,24.3,23.3,22.3,21.3,19.9,16.9],
  [46,36.3,35,34,31.9,29.7,28.5,27.5,25.5,24.5,23.5,22.5,19.9],
  [47,36.8,34.8,31.9,30.7,29.7,28.5,27.5,26.5,25.5,24.5,23.5,22,21,18.1],
  [48,34.9,32.3,31.2,30,28.9,27.7,26.6,25.4,23.7,22.2,19.8,16.5],
  [49,34.7,31.7,30.3,28.6,27.7,26.9,26,25.1,24.3,23.4,22.5,18.2,14.2],
  [50,40.8,31.5,29.4,28.3,27.1,25.1,23.7,22.2,20.2,17.9,16.5,15.3,13.9,12.2],
  [51,38.6,34.6,27.1,26,22,20.2,18.2,15.9,13.9],
  [52,36.6,29.4,28.5,27.4,26,18.8,17.1,14.6,10.5,9.1],
  [53,34.2,30,28.9,26.9,26.3,23.7,19.1,14.9,13.3],
  [54,31.4,24.4,18.5,14.4,13,12],
  [55,24.6,23.1,15.3,14.2],
  [56,29.2,25.9,22.4,17.9],
  [57,25.9,23.2,22,21.1,20.2,18.2],
  [58,27.4,26.6,21.4,20.2,19.4,18.5,15.5],
  [59,27,24.6,21.4,17.9],
  [60,25.7,24.6,23.4,17.4,15.2],
  [61,25.1,24,22.2,21.4,19.7,15.2],
  [62,28.9,26.9,24.3,23.4,22.5,20.5,19.7,18.5],
  [63,25,22.8,22,20.8,18.8,17.6],
  [64,26.4,23.7,22.8,22,20.5,18.4],
  [65,25.4,22.5,20.8,18.4,16.7],
  [66,21.5,20.8,19.5,15.6,14.8],
  [67,22.4,20.5,19.4,15.6,13.9,12.1],
  [68,23.2,19.7,16.1,14.8,10.9],
  [69,24.8,20.1,17.8,15.6,14.2],
  [70,24.6,20.5,19.7,18.5],
  [71,25.1,23.5,19.8,15.1,13.8,12.6],
  [72,24.8,22.8,21.4,19.4,18.5,17.6,13,9.7],
  [73,24.6,23.4,21.7,20,19.1,17.6,12.1],
  [74,23.3,20.3,18.4,16.1,10.5],
  [75,23.5,21.1,18.5,17.6,15.3],
  [76,18.2,17.4,16.5],
  [77,17.9,17,16.5],
  [78,19.1,16.3],
  [79,17],
  [80,16.8,15.9],
  [81,18.2,17],
  [82,17],
  [83,15.8],
  [89,12.9],
];

// trend line end points, one [[x,y],[x,y]] per series, in the order M <20, M ≥30, F <20, F ≥30
const shotTrends = [[[11,9.6],[29,23.2]], [[11,14.04],[89,8.4]], [[11,8.9],[41,20.54]], [[11,12],[89,5.8]]];
const javelinTrends = [[[11,29.1],[25,80.5]], [[11,57.9],[85,19.5]], [[11,24.9],[39,80.75]], [[11,42.08],[85,10.44]]];
const discusTrends = [[[11,27.8],[30,71.5]], [[11,42.6],[89,25.76]], [[11,20.28],[39,71.65]], [[11,37.85],[89,12.4]]];
const trendColors = ["#70ad47", "#ffc000", "#43682b", "#997300"];

const toPoints = rows => rows.flatMap(([age, ...vals]) => vals.map(v => ({ x: age, y: v })));

// draws the equation labels, they sit partly outside of the plot
const equationPlugin = {
  id: "equations",
  afterDraw(chart, args, opts) {
    const c = chart.ctx;
    c.save();
    c.font = "13px Lato";
    c.fillStyle = "#595959";
    c.textAlign = "center";
    c.textBaseline = "middle";
    opts.items.forEach(([text, x, y]) => c.fillText(text, x, y));
    c.restore();
  },
};

function makeChart(id, o) {
  const canvas = document.getElementById(id);
  const sink = o.legend ? 9 : 0; // the legend row hangs lower than chart.js would put it
  const scatter = o.series.map((rows, i) => ({
    label: seriesNames[i],
    data: toPoints(rows),
    backgroundColor: seriesColors[i],
    borderColor: seriesColors[i],
    borderWidth: 0,
    pointRadius: 5.2,
    pointStyle: "circle",
    order: 20 - i,
  }));
  const trends = o.trends.map((pts, i) => ({
    label: "trend",
    data: pts.map(p => ({ x: p[0], y: p[1] })),
    showLine: true,
    pointRadius: 0,
    borderColor: trendColors[i],
    borderWidth: 2.2,
    borderDash: [2, 3.2],
    order: 5 - i,
  }));
  return new Chart(canvas, {
    type: "scatter",
    data: { datasets: scatter.concat(trends) },
    plugins: [equationPlugin],
    options: {
      responsive: false,
      animation: false,
      devicePixelRatio: 1,
      layout: { padding: { left: 12, right: 12, top: 0, bottom: -sink } },
      plugins: {
        tooltip: { enabled: false },
        title: {
          display: true,
          text: o.title,
          color: "#595959",
          font: { family: "Lato", size: 27, weight: "bold", lineHeight: 1.2 },
          padding: { top: o.titleY - 16.2, bottom: o.top - o.titleY - 16.2 },
        },
        legend: {
          display: !!o.legend,
          position: "bottom",
          labels: {
            usePointStyle: true,
            boxWidth: 3,
            boxHeight: 7,
            padding: 15,
            color: "#595959",
            font: { family: "Lato", size: 14.5 },
            filter: item => item.datasetIndex < 6,
            sort: (a, b) => a.datasetIndex - b.datasetIndex,
          },
        },
        equations: { items: o.equations },
      },
      scales: {
        x: {
          type: "linear",
          min: 10,
          max: 90,
          afterBuildTicks: axis => { axis.ticks = ageTicks.map(v => ({ value: v })); },
          afterFit: axis => {
            const legendH = o.legend ? axis.chart.legend.height : 0;
            axis.height = canvas.height - o.bottom - legendH + sink;
          },
          grid: { color: "#d9d9d9", lineWidth: 1.3, drawTicks: false },
          border: { color: "#c8c8c8", width: 1.3 },
          ticks: { color: "#595959", font: { family: "Lato", size: 14 }, padding: 11, maxRotation: 0, autoSkip: false },
          title: {
            display: true,
            text: "age [years]",
            color: "#595959",
            font: { family: "Lato", size: 15.5, lineHeight: 1.2 },
            padding: { top: 0, bottom: o.xTitlePad },
          },
        },
        y: {
          type: "linear",
          min: o.yMin,
          max: o.yMax,
          afterBuildTicks: axis => { axis.ticks = o.yTicks.map(v => ({ value: v })); },
          afterFit: axis => { axis.width = 50; },
          grid: { color: "#d9d9d9", lineWidth: 1.3, drawTicks: false },
          border: { color: "#c8c8c8", width: 1.3 },
          ticks: { color: "#595959", font: { family: "Lato", size: 14 }, padding: 14, autoSkip: false },
          title: {
            display: true,
            text: "result [m]",
            color: "#595959",
            font: { family: "Lato", size: 15.5, lineHeight: 1.2 },
            padding: { top: -3, bottom: 0 },
          },
        },
      },
    },
  });
}

makeChart("shot", {
  title: "shot put", titleY: 23, top: 60, bottom: 484, xTitlePad: 3,
  yMin: 4, yMax: 20, yTicks: shotTicks,
  series: [shotMYoung, shotMMid, shotMOld, shotFYoung, shotFMid, shotFOld],
  trends: shotTrends,
  equations: [
    ["y = 0,7543x + 1,3012", 214, 35], ["R² = 0,5382", 214, 53],
    ["y = 0,3878x + 4,6366", 435, 76], ["R² = 0,2942", 435, 95],
    ["y = -0,0723x + 14,836", 844, 292], ["R² = 0,2585", 844, 310],
    ["y = -0,0795x + 12,874", 838, 454], ["R² = 0,3408", 838, 472],
  ],
});

makeChart("javelin", {
  title: "javelin throw", titleY: 26, top: 63.3, bottom: 489, xTitlePad: 2,
  yMin: 0, yMax: 80, yTicks: javelinTicks,
  series: [javelinMYoung, javelinMMid, javelinMOld, javelinFYoung, javelinFMid, javelinFOld],
  trends: javelinTrends,
  equations: [
    ["y = 3,671x - 11,292", 150, 71], ["R² = 0,6391", 150, 89],
    ["y = 1,9941x + 2,9802", 420, 81], ["R² = 0,4714", 420, 100],
    ["y = -0,5181x + 63,57", 855, 333], ["R² = 0,5119", 855, 351],
    ["y = -0,4276x + 46,784", 833, 447], ["R² = 0,3085", 833, 465],
  ],
});

makeChart("discus", {
  title: "discus throw", titleY: 27, top: 64.3, bottom: 457.3, xTitlePad: 11,
  yMin: 5, yMax: 70, yTicks: discusTicks, legend: true,
  series: [discusMYoung, discusMMid, discusMOld, discusFYoung, discusFMid, discusFOld],
  trends: discusTrends,
  equations: [
    ["y = 2,2997x + 2,4999", 189, 77], ["R² = 0,4035", 189, 95],
    ["y = 1,8348x + 0,0942", 423, 77], ["R² = 0,3864", 423, 95],
    ["y = -0,2156x + 44,947", 844, 272], ["R² = 0,1324", 844, 290],
    ["y = -0,326x + 41,431", 830, 422], ["R² = 0,3584", 830, 440],
  ],
});
</script>
</body>
</html>
